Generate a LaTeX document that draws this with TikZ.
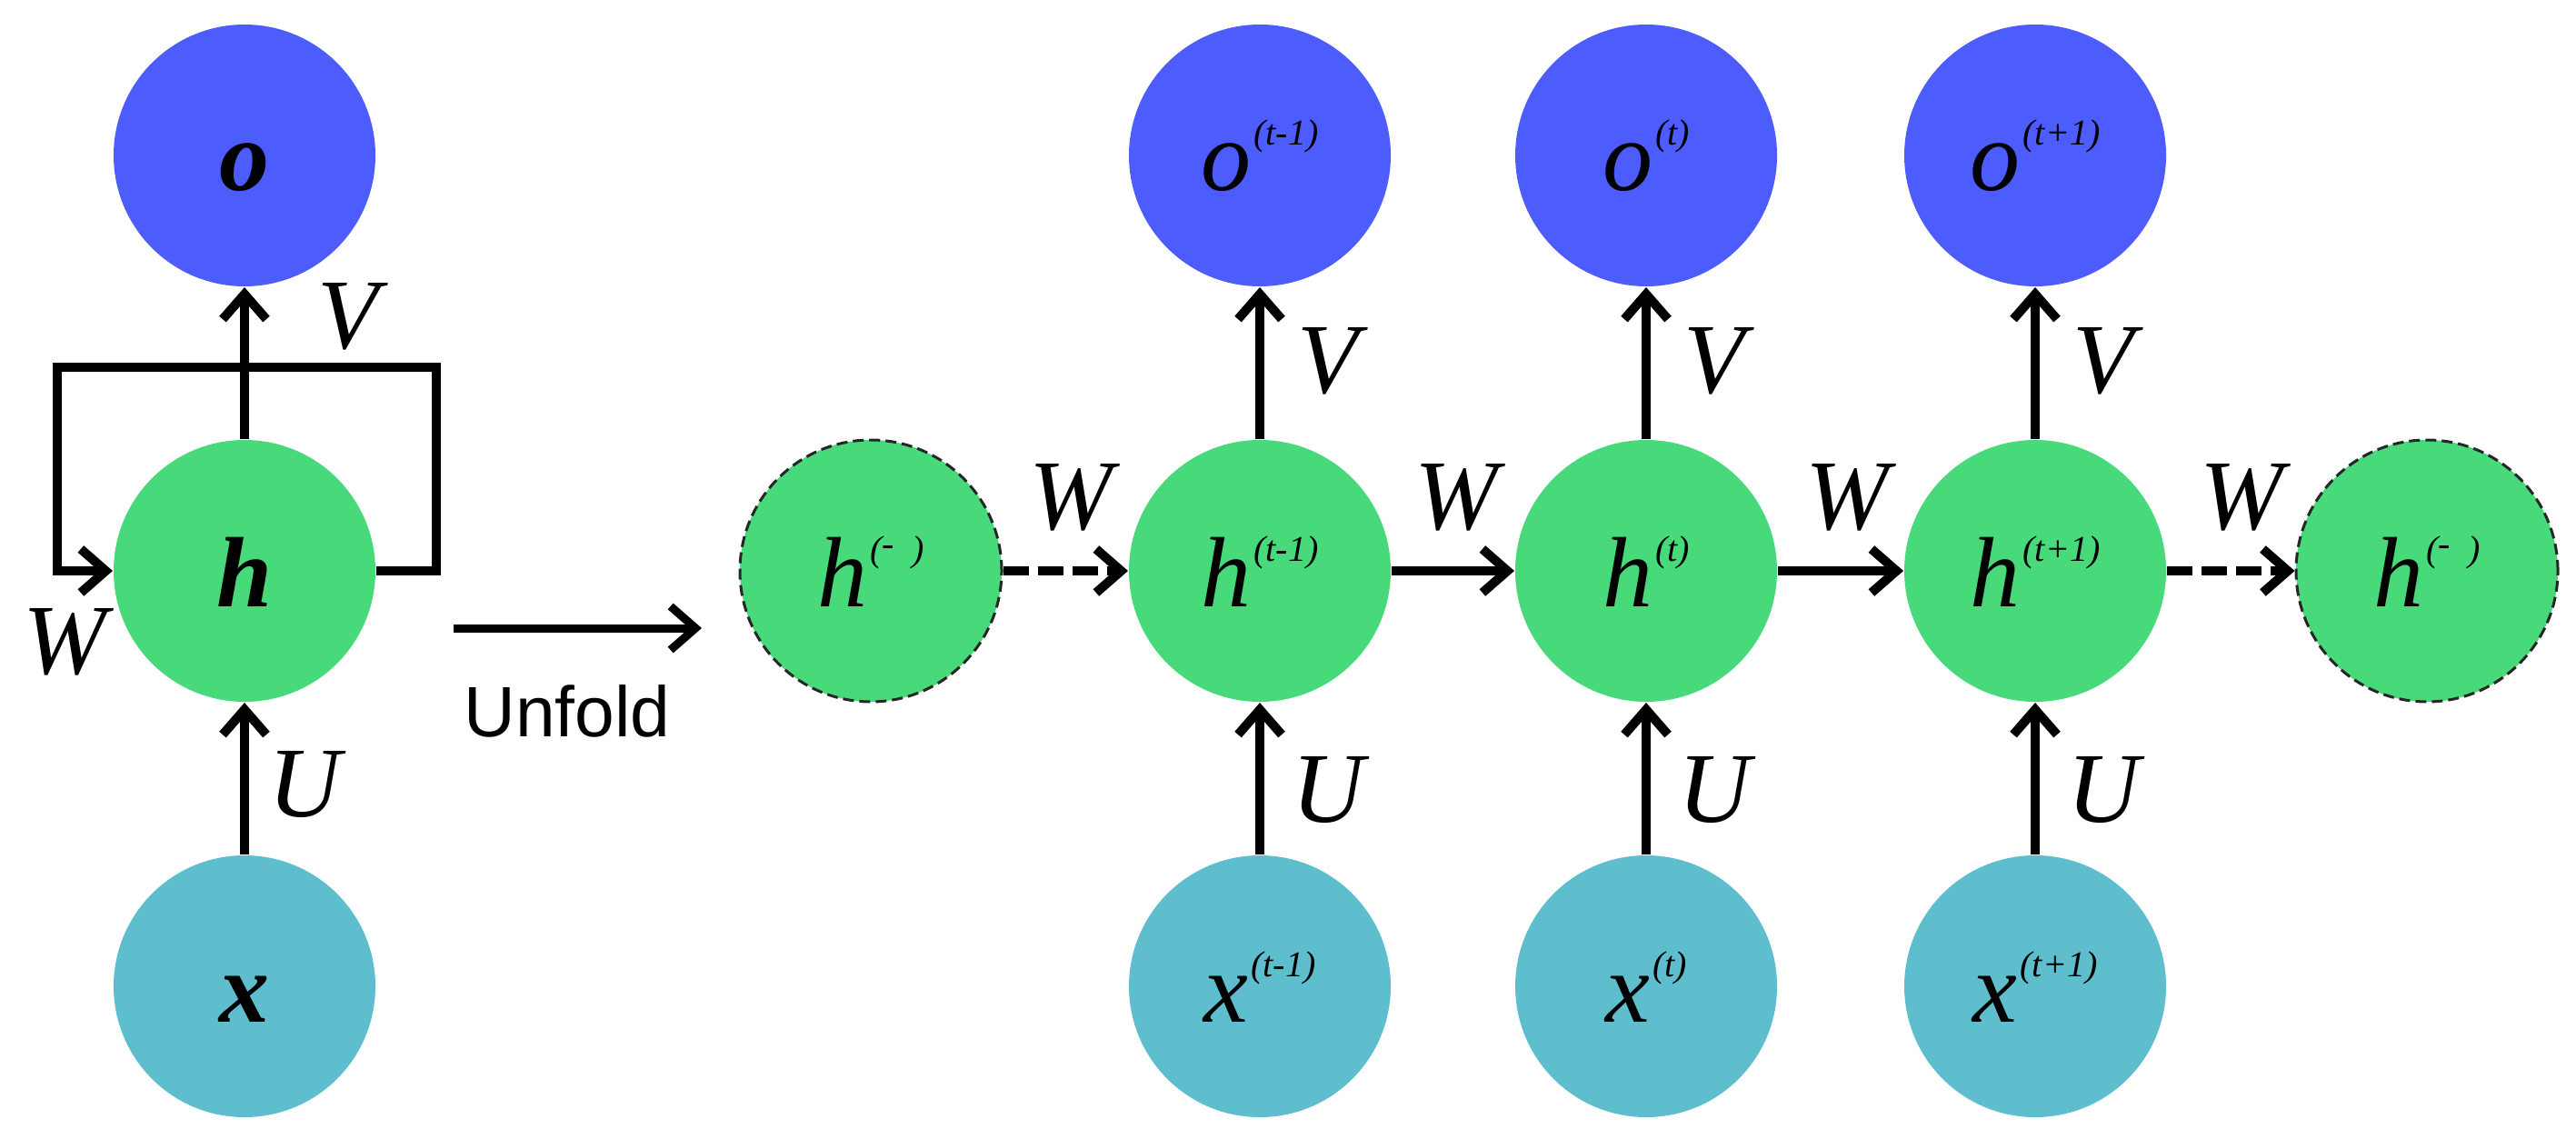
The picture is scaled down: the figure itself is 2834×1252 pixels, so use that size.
\documentclass[tikz,border=0pt]{standalone}
\usepackage{fontspec}
\setmainfont{Liberation Serif}
\newfontfamily\unfoldfont{Liberation Sans}
\usetikzlibrary{arrows.meta}
\definecolor{oblue}{RGB}{77,92,252}
\definecolor{hgreen}{RGB}{72,218,122}
\definecolor{xteal}{RGB}{94,190,206}
\newcommand{\nodelab}[2]{#1\hspace{0.6pt}\raisebox{10pt}{\fontsize{8}{8}\selectfont(#2)}}
\begin{document}
\begin{tikzpicture}[x=0.2pt,y=-0.2pt,
  unit/.style={circle,inner sep=0pt,minimum size=57.6pt,text height=15.6pt,text depth=0pt,font=\fontsize{22}{22}\selectfont\itshape},
  ounit/.style={unit,fill=oblue},
  hunit/.style={unit,fill=hgreen},
  xunit/.style={unit,fill=xteal},
  ghost/.style={hunit,draw=black!85,line width=0.6pt,dash pattern=on 2.4pt off 1.2pt},
  boldunit/.style={font=\fontsize{22}{22}\selectfont\bfseries\itshape},
  conn/.style={line width=2pt,-{Straight Barb[length=5.5pt,width=9.6pt]}},
  dconn/.style={conn,dash pattern=on 5.6pt off 2pt},
  wlab/.style={font=\fontsize{22}{22}\selectfont\itshape,inner sep=0pt},
  unfoldlab/.style={font=\unfoldfont\fontsize{15.7}{16}\selectfont,inner sep=0pt},
]
\useasboundingbox (0,0) rectangle (2834,1252);

% folded network
\node[ounit,boldunit] (lo) at (269,171) {o};
\node[hunit,boldunit] (lh) at (269,628) {h};
\node[xunit,boldunit] (lx) at (269,1085) {x};

\coordinate (c1) at (480,628);
\coordinate (c2) at (480,404);
\coordinate (c3) at (63,404);
\coordinate (c4) at (63,628);

\draw[conn] (lx) -- (lh);
\draw[conn] (lh) -- (lo);
\draw[conn] (lh.east) -- (c1) -- (c2) -- (c3) -- (c4) -- (lh.west);

\node[wlab] (lV) at (383,348) {V};
\node[wlab] (lW) at (71,706) {W};
\node[wlab] (lU) at (335,863) {U};

% unfold arrow
\coordinate (u1) at (499,691);
\coordinate (u2) at (772,691);
\draw[conn,line width=1.8pt] (u1) -- (u2);
\node[unfoldlab] (unf) at (624,782) {Unfold};

% unfolded network
\node[ghost] (hL) at (958,628) {\nodelab{h}{\raisebox{1.2pt}{-}\hspace{4pt}}};
\node[hunit] (h1) at (1386,628) {\nodelab{h}{t-1}};
\node[hunit] (h2) at (1811,628) {\nodelab{h}{t}};
\node[hunit] (h3) at (2239,628) {\nodelab{h}{t+1}};
\node[ghost] (hR) at (2670,628) {\nodelab{h}{\raisebox{1.2pt}{-}\hspace{4pt}}};

\node[ounit] (o1) at (1386,171) {\nodelab{o}{t-1}};
\node[ounit] (o2) at (1811,171) {\nodelab{o}{t}};
\node[ounit] (o3) at (2239,171) {\nodelab{o}{t+1}};

\node[xunit] (x1) at (1386,1085) {\nodelab{x}{t-1}};
\node[xunit] (x2) at (1811,1085) {\nodelab{x}{t}};
\node[xunit] (x3) at (2239,1085) {\nodelab{x}{t+1}};

\foreach \i in {1,2,3} {
  \draw[conn] (x\i) -- (h\i);
  \draw[conn] (h\i) -- (o\i);
}
\draw[dconn] (hL) -- (h1);
\draw[conn] (h1) -- (h2);
\draw[conn] (h2) -- (h3);
\draw[dconn] (h3) -- (hR);

\node[wlab] (V1) at (1461,397) {V};
\node[wlab] (V2) at (1886,397) {V};
\node[wlab] (V3) at (2314,397) {V};
\node[wlab] (U1) at (1461,869) {U};
\node[wlab] (U2) at (1886,869) {U};
\node[wlab] (U3) at (2314,869) {U};
\node[wlab] (W1) at (1178,547) {W};
\node[wlab] (W2) at (1602,547) {W};
\node[wlab] (W3) at (2032,547) {W};
\node[wlab] (W4) at (2466,547) {W};
\end{tikzpicture}
\end{document}
